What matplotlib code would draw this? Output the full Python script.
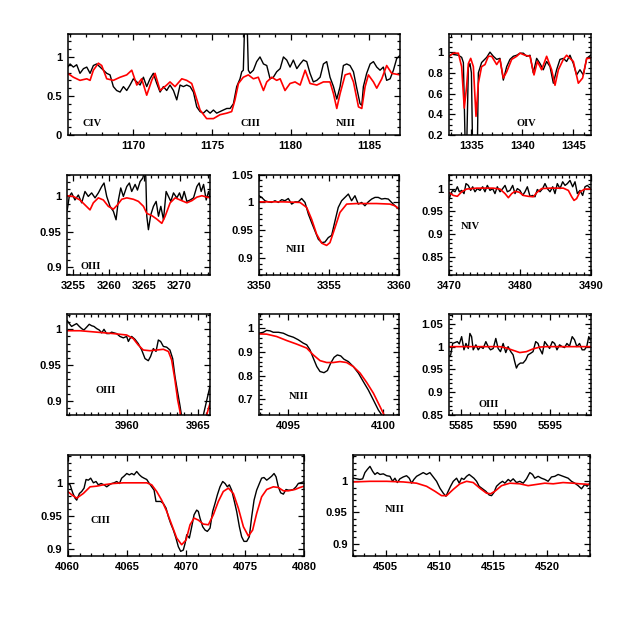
import matplotlib
matplotlib.use('Agg')
import matplotlib.pyplot as plt
from matplotlib.ticker import MultipleLocator, FuncFormatter

# ---- CIV / CIII / NIII  1166-1187 ----
p1_obs_w = [1165.83, 1165.98, 1166.19, 1166.40, 1166.61, 1166.83, 1167.04, 1167.25, 1167.46, 1167.67,
            1167.89, 1168.10, 1168.31, 1168.52, 1168.73, 1168.94, 1169.16, 1169.37, 1169.58, 1169.79,
            1170.00, 1170.22, 1170.43, 1170.64, 1170.85, 1171.06, 1171.27, 1171.49, 1171.70, 1171.91,
            1172.12, 1172.33, 1172.55, 1172.76, 1172.97, 1173.18, 1173.39, 1173.61, 1173.82, 1174.03,
            1174.24, 1174.45, 1174.66, 1174.88, 1175.09, 1175.30, 1175.51, 1175.72, 1175.94, 1176.15,
            1176.36, 1176.57, 1176.78, 1176.89, 1176.99, 1177.10, 1177.21, 1177.31, 1177.42, 1177.63,
            1177.84, 1178.05, 1178.27, 1178.48, 1178.69, 1178.90, 1179.11, 1179.33, 1179.54, 1179.75,
            1179.96, 1180.17, 1180.39, 1180.60, 1180.81, 1181.02, 1181.23, 1181.44, 1181.66, 1181.87,
            1182.08, 1182.29, 1182.50, 1182.72, 1182.93, 1183.14, 1183.35, 1183.56, 1183.77, 1183.99,
            1184.20, 1184.41, 1184.52, 1184.62, 1184.83, 1185.05, 1185.26, 1185.47, 1185.68, 1185.89,
            1186.10, 1186.32, 1186.53, 1186.74, 1186.95]
p1_obs_f = [0.87, 0.91, 0.87, 0.90, 0.79, 0.85, 0.87, 0.79, 0.89, 0.91,
            0.87, 0.83, 0.79, 0.77, 0.62, 0.57, 0.55, 0.62, 0.57, 0.64,
            0.72, 0.68, 0.64, 0.74, 0.62, 0.72, 0.79, 0.66, 0.55, 0.62,
            0.57, 0.64, 0.57, 0.45, 0.64, 0.62, 0.64, 0.62, 0.55, 0.36,
            0.30, 0.28, 0.32, 0.28, 0.32, 0.28, 0.30, 0.32, 0.34, 0.34,
            0.40, 0.62, 0.72, 0.81, 0.83, 1.60, 1.60, 0.83, 0.79, 0.83,
            0.94, 1.00, 0.91, 0.89, 0.72, 0.74, 0.81, 0.85, 1.00, 0.96,
            0.87, 0.96, 0.85, 0.91, 0.96, 0.94, 0.79, 0.68, 0.70, 0.74,
            0.91, 0.94, 0.74, 0.62, 0.46, 0.62, 0.89, 0.91, 0.89, 0.81,
            0.60, 0.40, 0.38, 0.62, 0.79, 0.91, 0.94, 0.87, 0.83, 0.87,
            0.70, 0.72, 0.83, 0.98, 1.02]
p1_mod_w = [1165.83, 1166.19, 1166.61, 1167.04, 1167.25, 1167.46, 1167.78, 1167.99, 1168.31, 1168.73,
            1169.16, 1169.58, 1169.90, 1170.22, 1170.53, 1170.85, 1171.17, 1171.38, 1171.70, 1172.12,
            1172.33, 1172.65, 1173.08, 1173.39, 1173.71, 1173.92, 1174.24, 1174.66, 1175.09, 1175.51,
            1175.94, 1176.25, 1176.46, 1176.68, 1176.99, 1177.31, 1177.63, 1177.94, 1178.27, 1178.48,
            1178.80, 1179.11, 1179.33, 1179.64, 1179.96, 1180.28, 1180.60, 1180.92, 1181.23, 1181.66,
            1182.08, 1182.50, 1182.72, 1182.93, 1183.14, 1183.46, 1183.77, 1183.99, 1184.31, 1184.52,
            1184.73, 1184.94, 1185.26, 1185.47, 1185.79, 1186.10, 1186.42, 1186.95]
p1_mod_f = [0.79, 0.74, 0.70, 0.72, 0.70, 0.83, 0.92, 0.89, 0.72, 0.70,
            0.74, 0.77, 0.83, 0.64, 0.72, 0.51, 0.70, 0.79, 0.57, 0.64,
            0.68, 0.62, 0.72, 0.70, 0.66, 0.53, 0.32, 0.21, 0.21, 0.26,
            0.28, 0.30, 0.45, 0.66, 0.74, 0.77, 0.72, 0.74, 0.57, 0.68,
            0.74, 0.70, 0.72, 0.57, 0.66, 0.68, 0.64, 0.83, 0.66, 0.64,
            0.68, 0.68, 0.53, 0.34, 0.53, 0.77, 0.79, 0.68, 0.36, 0.34,
            0.62, 0.77, 0.68, 0.60, 0.72, 0.89, 0.79, 0.77]

# ---- OIV 1333-1347 ----
p2_obs_w = [1332.80, 1333.06, 1333.72, 1334.04, 1334.21, 1334.40, 1334.53, 1334.70, 1334.86, 1335.00,
            1335.12, 1335.35, 1335.58, 1335.68, 1336.00, 1336.50, 1336.82, 1337.15, 1337.48, 1337.80,
            1338.13, 1338.46, 1338.78, 1339.11, 1339.44, 1339.77, 1340.09, 1340.42, 1340.75, 1341.07,
            1341.40, 1341.73, 1342.05, 1342.38, 1342.71, 1343.04, 1343.36, 1343.69, 1344.02, 1344.34,
            1344.67, 1345.00, 1345.32, 1345.65, 1345.98, 1346.31, 1346.70]
p2_obs_f = [0.96, 0.98, 0.97, 0.95, 0.90, 0.05, 0.05, 0.85, 0.89, 0.80,
            0.05, 0.05, 0.05, 0.80, 0.90, 0.95, 1.00, 0.96, 0.93, 0.94,
            0.73, 0.86, 0.93, 0.96, 0.97, 0.99, 0.99, 0.96, 0.97, 0.80,
            0.94, 0.89, 0.83, 0.91, 0.86, 0.70, 0.83, 0.93, 0.94, 0.91,
            0.97, 0.89, 0.78, 0.83, 0.78, 0.94, 0.97]
p2_mod_w = [1332.80, 1333.23, 1333.72, 1334.04, 1334.30, 1334.53, 1334.70, 1334.93, 1335.19, 1335.45,
            1335.68, 1336.00, 1336.33, 1336.66, 1336.99, 1337.48, 1337.80, 1338.13, 1338.46, 1338.95,
            1339.44, 1339.77, 1340.26, 1340.75, 1341.14, 1341.47, 1341.89, 1342.38, 1342.87, 1343.20,
            1343.53, 1344.02, 1344.34, 1344.67, 1345.00, 1345.49, 1345.91, 1346.31, 1346.70]
p2_mod_f = [0.96, 0.99, 0.99, 0.86, 0.46, 0.67, 0.89, 0.94, 0.86, 0.38,
            0.70, 0.86, 0.88, 0.96, 0.96, 0.88, 0.93, 0.75, 0.81, 0.93,
            0.96, 0.99, 0.97, 0.96, 0.78, 0.91, 0.83, 0.96, 0.83, 0.68,
            0.83, 0.93, 0.97, 0.94, 0.91, 0.70, 0.75, 0.94, 0.94]

# ---- OIII 3254-3274 ----
p3_obs_w = [3254.15, 3254.43, 3254.76, 3255.23, 3255.71, 3256.18, 3256.65, 3257.12, 3257.59, 3258.07,
            3258.54, 3259.01, 3259.34, 3259.72, 3260.19, 3260.66, 3261.04, 3261.37, 3261.70, 3262.07,
            3262.55, 3262.92, 3263.25, 3263.73, 3264.06, 3264.43, 3264.81, 3265.05, 3265.24, 3265.38,
            3265.61, 3265.94, 3266.32, 3266.70, 3267.03, 3267.36, 3267.74, 3268.11, 3268.44, 3268.77,
            3269.15, 3269.62, 3270.00, 3270.33, 3270.66, 3271.04, 3271.51, 3271.98, 3272.45, 3272.78,
            3273.06, 3273.40, 3273.77, 3274.10, 3274.34]
p3_obs_f = [0.981, 1.000, 1.005, 0.995, 1.002, 0.991, 1.007, 1.000, 1.005, 0.998,
            1.005, 1.014, 1.019, 1.000, 0.986, 0.979, 0.967, 0.995, 1.012, 1.000,
            1.014, 1.019, 1.007, 1.017, 1.009, 1.021, 1.026, 1.035, 1.028, 0.972,
            0.953, 0.974, 0.986, 0.993, 0.972, 0.986, 0.967, 1.007, 1.000, 0.993,
            1.005, 0.998, 1.005, 0.995, 1.007, 0.993, 0.995, 0.998, 1.014, 1.019,
            1.007, 1.017, 0.995, 1.007, 0.998]
p3_mod_w = [3254.15, 3255.00, 3255.94, 3256.65, 3257.36, 3257.83, 3258.54, 3259.24, 3259.95, 3260.66,
            3261.23, 3261.84, 3262.55, 3263.49, 3264.20, 3264.91, 3265.38, 3266.08, 3266.79, 3267.50,
            3267.97, 3268.68, 3269.39, 3270.09, 3271.04, 3271.74, 3272.45, 3273.16, 3273.87, 3274.34]
p3_mod_f = [1.001, 1.000, 0.995, 0.988, 0.981, 0.991, 0.998, 0.995, 0.986, 0.982,
            0.988, 0.996, 0.998, 0.996, 0.993, 0.986, 0.976, 0.973, 0.968, 0.962,
            0.972, 0.991, 0.998, 0.995, 0.991, 0.994, 0.999, 1.001, 0.999, 0.998]

# ---- NIII 3350-3360 ----
p4_obs_w = [3350.00, 3350.19, 3350.43, 3350.67, 3350.90, 3351.14, 3351.38, 3351.62, 3351.85, 3352.09,
            3352.33, 3352.57, 3352.80, 3353.04, 3353.28, 3353.52, 3353.75, 3353.99, 3354.23, 3354.47,
            3354.70, 3354.94, 3355.18, 3355.42, 3355.65, 3355.89, 3356.13, 3356.37, 3356.60, 3356.84,
            3357.08, 3357.32, 3357.55, 3357.79, 3358.03, 3358.27, 3358.50, 3358.74, 3358.98, 3359.22,
            3359.45, 3359.69, 3360.00]
p4_obs_f = [1.012, 1.009, 1.003, 1.001, 1.000, 1.003, 1.000, 1.005, 1.003, 1.007,
            0.997, 1.001, 1.001, 1.007, 1.000, 0.979, 0.964, 0.949, 0.934, 0.928,
            0.929, 0.937, 0.941, 0.967, 0.991, 1.003, 1.009, 1.015, 1.003, 1.012,
            0.997, 1.000, 0.994, 1.001, 1.006, 1.009, 1.009, 1.006, 1.007, 1.006,
            1.000, 0.994, 0.988]
p4_mod_w = [3350.00, 3351.73, 3352.92, 3353.40, 3353.75, 3354.11, 3354.47, 3354.82, 3355.06, 3355.42,
            3355.77, 3356.25, 3356.96, 3358.38, 3359.33, 3359.69, 3360.00]
p4_mod_f = [1.001, 1.001, 1.000, 0.991, 0.970, 0.943, 0.927, 0.923, 0.928, 0.955,
            0.982, 0.997, 0.998, 0.998, 0.997, 0.994, 0.988]

# ---- NIV 3470-3490 ----
p5_obs_w = [3470.00, 3470.24, 3470.52, 3470.85, 3471.18, 3471.46, 3471.79, 3472.12, 3472.40, 3472.73,
            3473.06, 3473.34, 3473.67, 3474.00, 3474.38, 3474.75, 3475.08, 3475.41, 3475.79, 3476.16,
            3476.49, 3476.82, 3477.20, 3477.58, 3477.91, 3478.24, 3478.61, 3478.99, 3479.32, 3479.65,
            3480.02, 3480.40, 3480.73, 3481.06, 3481.44, 3481.81, 3482.14, 3482.47, 3482.85, 3483.22,
            3483.55, 3483.88, 3484.26, 3484.64, 3484.96, 3485.29, 3485.67, 3486.05, 3486.38, 3486.71,
            3487.08, 3487.46, 3487.79, 3488.12, 3488.49, 3488.87, 3489.20, 3489.53, 3490.00]
p5_obs_f = [0.974, 0.989, 0.996, 0.993, 1.004, 0.993, 0.996, 0.989, 1.011, 1.007,
            0.996, 1.004, 0.993, 1.000, 0.996, 1.004, 0.993, 1.007, 0.996, 1.000,
            0.989, 1.004, 0.993, 1.000, 1.007, 0.993, 0.996, 1.007, 0.989, 1.000,
            0.996, 0.985, 0.993, 1.004, 0.983, 0.985, 0.982, 0.998, 0.993, 1.000,
            1.011, 1.000, 0.993, 1.004, 0.989, 1.011, 1.000, 1.015, 1.007, 1.011,
            1.018, 1.004, 1.015, 0.989, 0.996, 0.985, 1.004, 1.007, 1.000]
p5_mod_w = [3470.00, 3470.61, 3471.18, 3471.79, 3472.49, 3473.91, 3476.26, 3477.20, 3477.91, 3478.38,
            3478.85, 3479.32, 3479.93, 3480.49, 3481.20, 3481.91, 3482.38, 3483.08, 3484.26, 3486.14,
            3486.85, 3487.32, 3487.65, 3488.02, 3488.49, 3489.20, 3490.00]
p5_mod_f = [0.991, 0.985, 0.983, 0.993, 0.999, 1.001, 1.001, 0.999, 0.989, 0.980,
            0.989, 0.994, 0.992, 0.985, 0.983, 0.982, 0.991, 1.000, 1.001, 1.001,
            0.996, 0.982, 0.974, 0.978, 0.993, 0.999, 0.999]

# ---- OIII 3956-3966 ----
p6_obs_w = [3955.86, 3956.00, 3956.16, 3956.33, 3956.51, 3956.70, 3956.86, 3957.02, 3957.21, 3957.39,
            3957.56, 3957.72, 3957.91, 3958.09, 3958.26, 3958.42, 3958.60, 3958.79, 3958.95, 3959.12,
            3959.30, 3959.53, 3959.77, 3960.00, 3960.12, 3960.23, 3960.35, 3960.58, 3960.81, 3961.05,
            3961.28, 3961.51, 3961.67, 3961.86, 3962.05, 3962.21, 3962.37, 3962.56, 3962.79, 3963.02,
            3963.21, 3963.37, 3963.53, 3963.72, 3963.90, 3964.19, 3964.88, 3965.23, 3965.35, 3965.58,
            3965.81]
p6_obs_f = [1.012, 1.008, 1.004, 1.006, 1.008, 1.004, 1.001, 0.999, 1.003, 1.007,
            1.005, 1.004, 1.001, 0.999, 0.995, 1.000, 0.994, 0.994, 0.996, 0.995,
            0.994, 0.990, 0.988, 0.990, 0.983, 0.987, 0.990, 0.986, 0.980, 0.971,
            0.959, 0.956, 0.962, 0.973, 0.969, 0.985, 0.983, 0.976, 0.975, 0.971,
            0.959, 0.934, 0.915, 0.893, 0.870, 0.750, 0.750, 0.860, 0.880, 0.900,
            0.920]
p6_mod_w = [3955.86, 3956.74, 3957.91, 3959.07, 3960.00, 3960.46, 3960.81, 3961.16, 3961.63, 3962.09,
            3962.56, 3962.91, 3963.14, 3963.37, 3963.56, 3963.72, 3963.86, 3964.19, 3965.00, 3965.53,
            3965.65, 3965.81]
p6_mod_f = [0.998, 0.998, 0.996, 0.994, 0.992, 0.987, 0.978, 0.971, 0.970, 0.971,
            0.972, 0.969, 0.957, 0.929, 0.901, 0.885, 0.860, 0.750, 0.750, 0.875,
            0.885, 0.896]

# ---- NIII 4093.5-4101 ----
p7_obs_w = [4093.46, 4093.69, 4093.86, 4094.04, 4094.21, 4094.48, 4094.74, 4095.00, 4095.27, 4095.53,
            4095.79, 4095.97, 4096.14, 4096.32, 4096.50, 4096.67, 4096.88, 4097.06, 4097.23, 4097.41,
            4097.58, 4097.76, 4097.93, 4098.16, 4098.42, 4098.69, 4098.95, 4099.21, 4099.48, 4099.74,
            4099.92, 4100.09]
p7_obs_f = [0.980, 0.984, 0.992, 0.990, 0.984, 0.984, 0.980, 0.970, 0.963, 0.952,
            0.938, 0.931, 0.910, 0.874, 0.839, 0.818, 0.813, 0.822, 0.853, 0.878,
            0.888, 0.884, 0.870, 0.860, 0.839, 0.811, 0.775, 0.740, 0.697, 0.655,
            0.634, 0.600]
p7_mod_w = [4093.46, 4093.86, 4094.39, 4094.92, 4095.44, 4095.97, 4096.32, 4096.67, 4097.02, 4097.37,
            4097.72, 4098.07, 4098.42, 4098.78, 4099.13, 4099.48, 4099.83, 4100.04, 4100.18]
p7_mod_f = [0.977, 0.976, 0.966, 0.949, 0.934, 0.917, 0.888, 0.864, 0.856, 0.856,
            0.860, 0.856, 0.839, 0.811, 0.771, 0.726, 0.669, 0.634, 0.600]

# ---- OIII 5584-5599.5 ----
p8_obs_w = [5583.70, 5583.89, 5584.11, 5584.37, 5584.63, 5584.85, 5585.11, 5585.37, 5585.59, 5585.85,
            5586.03, 5586.22, 5586.40, 5586.70, 5586.96, 5587.22, 5587.51, 5587.81, 5588.07, 5588.33,
            5588.63, 5588.92, 5589.18, 5589.44, 5589.74, 5590.03, 5590.29, 5590.59, 5590.85, 5591.03,
            5591.22, 5591.40, 5591.66, 5591.96, 5592.26, 5592.51, 5592.77, 5593.07, 5593.37, 5593.63,
            5593.81, 5594.11, 5594.37, 5594.63, 5594.92, 5595.22, 5595.48, 5595.74, 5596.03, 5596.33,
            5596.59, 5596.85, 5597.14, 5597.44, 5597.70, 5597.96, 5598.26, 5598.55, 5598.81, 5599.07,
            5599.29, 5599.44]
p8_obs_f = [0.978, 0.982, 1.007, 1.009, 1.011, 1.006, 1.022, 0.993, 1.007, 0.996,
            1.029, 1.022, 0.993, 1.004, 0.993, 1.000, 0.996, 1.011, 1.000, 0.993,
            0.996, 1.018, 0.996, 0.989, 1.007, 0.987, 1.000, 0.989, 0.982, 0.967,
            0.953, 0.960, 0.964, 0.964, 0.971, 0.982, 0.985, 0.989, 1.011, 1.007,
            0.996, 0.984, 1.011, 1.004, 0.996, 1.011, 1.007, 0.993, 1.004, 1.000,
            0.998, 1.007, 1.001, 1.022, 1.015, 1.000, 1.007, 0.993, 0.993, 1.001,
            1.022, 1.015]
p8_mod_w = [5583.70, 5589.37, 5590.11, 5590.85, 5591.59, 5592.33, 5593.07, 5593.81, 5594.55, 5599.44]
p8_mod_f = [1.000, 1.000, 0.997, 0.992, 0.987, 0.989, 0.995, 0.999, 1.000, 1.000]

# ---- CIII 4060-4080 ----
p9_obs_w = [4060.00, 4060.20, 4060.42, 4060.62, 4060.76, 4060.99, 4061.18, 4061.38, 4061.55, 4061.75,
            4061.94, 4062.17, 4062.39, 4062.59, 4062.82, 4063.07, 4063.30, 4063.52, 4063.72, 4063.92,
            4064.14, 4064.37, 4064.56, 4064.76, 4064.99, 4065.21, 4065.41, 4065.61, 4065.83, 4066.06,
            4066.25, 4066.45, 4066.68, 4066.90, 4067.10, 4067.30, 4067.46, 4067.66, 4067.86, 4068.08,
            4068.31, 4068.51, 4068.70, 4068.93, 4069.15, 4069.35, 4069.55, 4069.77, 4069.92, 4070.06,
            4070.28, 4070.48, 4070.68, 4070.90, 4071.04, 4071.18, 4071.41, 4071.61, 4071.80, 4072.03,
            4072.25, 4072.45, 4072.65, 4072.87, 4073.10, 4073.30, 4073.49, 4073.66, 4073.86, 4074.06,
            4074.28, 4074.51, 4074.70, 4074.90, 4075.13, 4075.35, 4075.55, 4075.75, 4075.97, 4076.20,
            4076.39, 4076.59, 4076.82, 4077.04, 4077.24, 4077.44, 4077.61, 4077.80, 4078.00, 4078.23,
            4078.45, 4078.65, 4078.85, 4079.07, 4079.30, 4079.49, 4079.69, 4080.00]
p9_obs_f = [0.999, 0.997, 0.985, 0.977, 0.974, 0.984, 0.987, 0.992, 1.005, 1.004,
            1.007, 1.000, 1.002, 0.997, 0.999, 0.997, 0.994, 0.997, 0.999, 1.000,
            1.002, 0.999, 1.007, 1.010, 1.014, 1.012, 1.014, 1.012, 1.017, 1.012,
            1.009, 1.007, 1.005, 0.999, 0.994, 0.989, 0.972, 0.972, 0.972, 0.969,
            0.962, 0.949, 0.939, 0.929, 0.917, 0.904, 0.897, 0.899, 0.909, 0.922,
            0.917, 0.934, 0.952, 0.959, 0.957, 0.947, 0.934, 0.929, 0.927, 0.932,
            0.957, 0.969, 0.982, 0.994, 1.002, 0.999, 0.994, 0.997, 0.989, 0.974,
            0.957, 0.934, 0.919, 0.912, 0.912, 0.919, 0.949, 0.974, 0.989, 0.999,
            1.007, 1.008, 1.004, 1.007, 1.010, 1.014, 1.009, 0.994, 0.985, 0.983,
            0.990, 0.989, 0.989, 0.990, 0.994, 0.999, 1.000, 1.002]
p9_mod_w = [4060.00, 4060.34, 4060.76, 4061.32, 4061.89, 4062.45, 4063.01, 4063.86, 4064.70, 4065.83,
            4066.68, 4067.10, 4067.52, 4067.94, 4068.37, 4068.79, 4069.21, 4069.63, 4070.00, 4070.34,
            4070.68, 4071.04, 4071.46, 4071.89, 4072.31, 4072.73, 4073.15, 4073.58, 4074.00, 4074.42,
            4074.85, 4075.27, 4075.63, 4075.97, 4076.39, 4076.82, 4077.38, 4077.80, 4078.23, 4078.65,
            4079.21, 4079.63, 4080.00]
p9_mod_f = [0.987, 0.982, 0.977, 0.984, 0.994, 0.995, 0.997, 0.999, 1.000, 1.000,
            1.000, 0.997, 0.987, 0.974, 0.957, 0.937, 0.917, 0.907, 0.914, 0.937,
            0.947, 0.944, 0.938, 0.937, 0.952, 0.972, 0.987, 0.992, 0.984, 0.962,
            0.934, 0.920, 0.929, 0.954, 0.979, 0.990, 0.994, 0.993, 0.988, 0.988,
            0.990, 0.993, 0.995]

# ---- NIII 4502-4524 ----
p10_obs_w = [4502.00, 4502.31, 4502.62, 4502.87, 4503.08, 4503.30, 4503.55, 4503.80, 4504.01, 4504.23,
             4504.48, 4504.79, 4505.10, 4505.41, 4505.65, 4505.87, 4506.09, 4506.33, 4506.64, 4506.95,
             4507.20, 4507.42, 4507.63, 4507.88, 4508.19, 4508.50, 4508.81, 4509.12, 4509.43, 4509.74,
             4510.05, 4510.36, 4510.61, 4510.82, 4511.04, 4511.29, 4511.60, 4511.85, 4512.06, 4512.28,
             4512.53, 4512.77, 4512.99, 4513.21, 4513.46, 4513.70, 4514.01, 4514.32, 4514.63, 4514.85,
             4515.07, 4515.31, 4515.62, 4515.87, 4516.09, 4516.40, 4516.61, 4516.86, 4517.17, 4517.48,
             4517.79, 4518.10, 4518.41, 4518.66, 4518.87, 4519.18, 4519.49, 4519.80, 4520.11, 4520.42,
             4520.73, 4521.04, 4521.35, 4521.66, 4521.97, 4522.28, 4522.59, 4522.90, 4523.21, 4523.52,
             4523.73, 4523.98]
p10_obs_f = [1.005, 1.004, 1.003, 1.004, 1.014, 1.019, 1.024, 1.016, 1.011, 1.014,
             1.011, 1.012, 1.009, 1.008, 1.000, 1.005, 0.998, 1.004, 1.007, 1.009,
             1.005, 0.997, 1.003, 1.008, 1.011, 1.014, 1.011, 1.014, 1.007, 1.000,
             0.989, 0.981, 0.976, 0.984, 0.992, 1.000, 1.005, 0.997, 1.005, 1.003,
             1.008, 1.011, 1.008, 1.005, 1.000, 0.992, 0.988, 0.984, 0.978, 0.977,
             0.982, 0.992, 0.997, 1.000, 0.997, 1.003, 1.000, 1.004, 0.998, 1.000,
             0.997, 1.004, 1.014, 1.011, 1.005, 1.008, 1.005, 1.003, 1.000, 1.007,
             1.008, 1.011, 1.009, 1.007, 1.005, 1.000, 0.997, 0.993, 0.988, 0.995,
             0.992, 0.997]
p10_mod_w = [4502.00, 4503.55, 4505.10, 4506.64, 4507.88, 4508.81, 4509.59, 4510.20, 4510.67, 4511.29,
             4511.91, 4512.53, 4513.15, 4513.76, 4514.38, 4514.76, 4515.16, 4515.78, 4516.55, 4517.48,
             4518.25, 4519.03, 4519.80, 4520.58, 4521.50, 4522.43, 4523.05, 4523.98]
p10_mod_f = [0.999, 1.000, 1.000, 0.999, 0.997, 0.992, 0.984, 0.977, 0.977, 0.987,
             0.996, 1.000, 0.998, 0.989, 0.981, 0.980, 0.984, 0.993, 0.997, 0.996,
             0.993, 0.995, 0.997, 0.996, 0.998, 0.997, 0.996, 0.995]

# panel layout: rect, xlim, ylim, x major/minor, y major/minor, labels
panels = [
    ([0.1087, 0.7833, 0.5334, 0.1629], p1_obs_w, p1_obs_f, p1_mod_w, p1_mod_f,
     (1165.83, 1186.95), (0.0, 1.3), (5, 1), (0.5, 0.1),
     [('CIV', 0.072, 0.115), ('CIII', 0.551, 0.115), ('NIII', 0.837, 0.115)]),
    ([0.7207, 0.7833, 0.2274, 0.1621], p2_obs_w, p2_obs_f, p2_mod_w, p2_mod_f,
     (1332.8, 1346.7), (0.2, 1.175), (5, 1), (0.2, 0.05), [('OIV', 0.548, 0.116)]),
    ([0.1080, 0.5586, 0.2290, 0.1613], p3_obs_w, p3_obs_f, p3_mod_w, p3_mod_f,
     (3254.15, 3274.3), (0.889, 1.031), (5, 1), (0.05, 0.01), [('OIII', 0.164, 0.083)]),
    ([0.4157, 0.5586, 0.2252, 0.1613], p4_obs_w, p4_obs_f, p4_mod_w, p4_mod_f,
     (3350, 3360), (0.87, 1.05), (5, 0.5), (0.05, 0.01), [('NIII', 0.264, 0.255)]),
    ([0.7207, 0.5586, 0.2274, 0.1613], p5_obs_w, p5_obs_f, p5_mod_w, p5_mod_f,
     (3470, 3490), (0.81, 1.031), (10, 1), (0.05, 0.01), [('NIV', 0.153, 0.48)]),
    ([0.1080, 0.3339, 0.2290, 0.1616], p6_obs_w, p6_obs_f, p6_mod_w, p6_mod_f,
     (3955.86, 3965.81), (0.88, 1.021), (5, 0.5), (0.05, 0.01), [('OIII', 0.269, 0.248)]),
    ([0.4157, 0.3339, 0.2252, 0.1616], p7_obs_w, p7_obs_f, p7_mod_w, p7_mod_f,
     (4093.46, 4100.84), (0.634, 1.06), (5, 0.5), (0.1, 0.02), [('NIII', 0.285, 0.18)]),
    ([0.7207, 0.3339, 0.2274, 0.1616], p8_obs_w, p8_obs_f, p8_mod_w, p8_mod_f,
     (5583.7, 5599.5), (0.85, 1.071), (5, 1), (0.05, 0.01), [('OIII', 0.278, 0.10)]),
    ([0.1087, 0.1075, 0.3798, 0.1629], p9_obs_w, p9_obs_f, p9_mod_w, p9_mod_f,
     (4060, 4080), (0.89, 1.0425), (5, 1), (0.05, 0.01), [('CIII', 0.137, 0.35)]),
    ([0.5671, 0.1075, 0.3799, 0.1629], p10_obs_w, p10_obs_f, p10_mod_w, p10_mod_f,
     (4502, 4524), (0.88, 1.043), (5, 1), (0.05, 0.01), [('NIII', 0.176, 0.455)]),
]

tickfmt = FuncFormatter(lambda v, pos: '{:g}'.format(round(v, 4)))

fig = plt.figure(figsize=(6.23, 6.23), dpi=100)
for rect, ow, of, mw, mf, xl, yl, xt, yt, labels in panels:
    ax = fig.add_axes(rect)
    ax.plot(ow, of, color='black', lw=1.0)
    ax.plot(mw, mf, color='red', lw=1.2)
    ax.set_xlim(*xl)
    ax.set_ylim(*yl)
    ax.xaxis.set_major_locator(MultipleLocator(xt[0]))
    ax.xaxis.set_minor_locator(MultipleLocator(xt[1]))
    ax.yaxis.set_major_locator(MultipleLocator(yt[0]))
    ax.yaxis.set_minor_locator(MultipleLocator(yt[1]))
    ax.xaxis.set_major_formatter(tickfmt)
    ax.yaxis.set_major_formatter(tickfmt)
    ax.tick_params(which='both', direction='in', top=True, right=True, width=0.9)
    ax.tick_params(which='major', length=4.5, labelsize=8)
    ax.tick_params(axis='x', which='major', pad=4)
    ax.tick_params(axis='y', which='major', pad=4)
    ax.tick_params(which='minor', length=2.2)
    for lab in ax.get_xticklabels() + ax.get_yticklabels():
        lab.set_fontfamily('Liberation Sans')
        lab.set_fontweight('bold')
    for s in ax.spines.values():
        s.set_linewidth(1.1)
    for txt, tx, ty in labels:
        ax.text(tx, ty, txt, transform=ax.transAxes, fontsize=7.5, fontweight='bold',
                family='Liberation Serif', ha='center', va='center')

fig.savefig('out.png', dpi=100)
